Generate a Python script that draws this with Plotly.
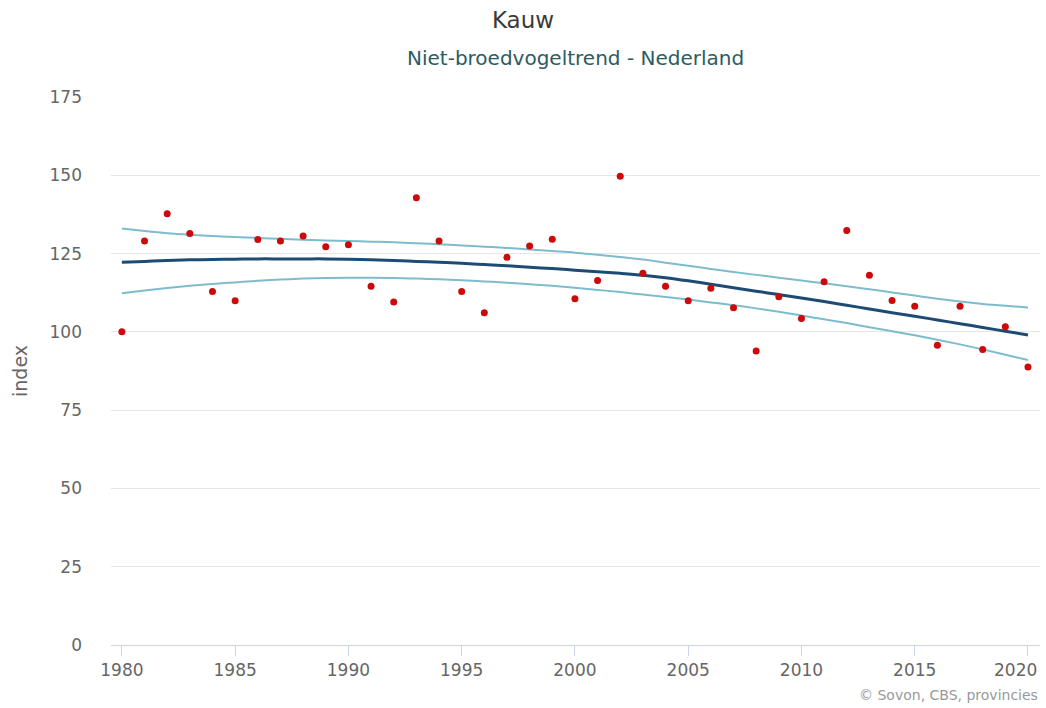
import plotly.graph_objects as go

years = list(range(1980, 2021))

index_values = [100.0, 129.0, 137.7, 131.4, 112.9, 109.9, 129.5, 129.0, 130.6, 127.2,
                127.8, 114.6, 109.5, 142.8, 129.0, 112.9, 106.1, 123.8, 127.4, 129.6,
                110.6, 116.4, 149.7, 118.7, 114.6, 109.9, 113.9, 107.7, 93.9, 111.2,
                104.3, 116.0, 132.4, 118.1, 110.0, 108.2, 95.7, 108.2, 94.4, 101.6,
                88.8]

trend = [122.2, 122.5, 122.8, 123.0, 123.1, 123.2, 123.3, 123.3, 123.3, 123.3,
         123.2, 123.0, 122.8, 122.5, 122.2, 121.9, 121.5, 121.1, 120.6, 120.2,
         119.7, 119.2, 118.7, 118.1, 117.3, 116.3, 115.2, 114.1, 113.0, 111.9,
         110.8, 109.7, 108.5, 107.3, 106.1, 105.0, 103.8, 102.6, 101.4, 100.2,
         99.0]

upper = [133.0, 132.2, 131.5, 131.0, 130.6, 130.3, 130.0, 129.7, 129.4, 129.2,
         129.0, 128.8, 128.6, 128.3, 128.0, 127.6, 127.2, 126.8, 126.3, 125.8,
         125.3, 124.6, 123.9, 123.1, 122.1, 121.1, 120.1, 119.1, 118.2, 117.3,
         116.4, 115.5, 114.6, 113.6, 112.6, 111.6, 110.6, 109.7, 108.9, 108.3,
         107.8]

lower = [112.3, 113.2, 114.0, 114.7, 115.3, 115.8, 116.3, 116.7, 117.0, 117.2,
         117.3, 117.3, 117.2, 117.0, 116.8, 116.5, 116.1, 115.7, 115.2, 114.7,
         114.1, 113.4, 112.7, 111.9, 111.1, 110.3, 109.4, 108.5, 107.5, 106.4,
         105.2, 104.0, 102.8, 101.5, 100.2, 98.9, 97.5, 96.0, 94.4, 92.7,
         91.0]

x_ticks = [1980, 1985, 1990, 1995, 2000, 2005, 2010, 2015, 2020]
y_ticks = [0, 25, 50, 75, 100, 125, 150, 175]

title_text = "Kauw"
subtitle_text = "Niet-broedvogeltrend - Nederland"
credits_text = "© Sovon, CBS, provincies"

FONT = "DejaVu Sans, sans-serif"

fig = go.Figure()
fig.add_trace(go.Scatter(x=years, y=upper, mode="lines", line=dict(color="#7dbccd", width=2, shape="spline"),
                         hoverinfo="skip", showlegend=False))
fig.add_trace(go.Scatter(x=years, y=lower, mode="lines", line=dict(color="#7dbccd", width=2, shape="spline"),
                         hoverinfo="skip", showlegend=False))
fig.add_trace(go.Scatter(x=years, y=trend, mode="lines", line=dict(color="#1d4b73", width=3, shape="spline"),
                         showlegend=False))
fig.add_trace(go.Scatter(x=years, y=index_values, mode="markers",
                         marker=dict(color="#cc0a0a", size=7), showlegend=False))

# last x tick label is kept inside the chart (right-aligned at its tick), as in the original
tick_text = [str(t) for t in x_ticks[:-1]] + [""]
last_label = dict(text=str(x_ticks[-1]), xref="x", yref="paper", x=x_ticks[-1], xanchor="right",
                  xshift=11, y=-25 / 548, yanchor="middle", showarrow=False,
                  font=dict(family=FONT, size=17, color="#666666"))

fig.update_layout(
    width=1046, height=708,
    paper_bgcolor="white", plot_bgcolor="white",
    margin=dict(l=111, r=6, t=97, b=63),
    font=dict(family=FONT, color="#666666", size=17),
    title=dict(text=title_text, x=0.5, xanchor="center", y=1 - 20 / 708, yanchor="middle",
               font=dict(family=FONT, size=23, color="#3a3a3a")),
    annotations=[
        dict(text=subtitle_text, xref="paper", yref="paper", x=0.5, xanchor="center",
             y=1 + (97 - 58) / 548, yanchor="middle", showarrow=False,
             font=dict(family=FONT, size=20, color="#2b5c62")),
        dict(text=credits_text, xref="paper", yref="paper", x=1.0, xanchor="right",
             y=-50 / 548, yanchor="middle", showarrow=False,
             font=dict(family=FONT, size=14, color="#999999")),
        last_label,
    ],
    xaxis=dict(range=[1979.52, 2020.53], tickvals=x_ticks, ticktext=tick_text,
               showgrid=False, showline=True, linecolor="#ccd6eb", linewidth=1,
               ticks="outside", ticklen=10, tickcolor="#ccd6eb", zeroline=False,
               tickfont=dict(size=17, color="#666666")),
    yaxis=dict(range=[0, 175], tickvals=y_ticks, showgrid=True, gridcolor="#e6e6e6",
               zeroline=False, showline=False, ticks="", ticklabelstandoff=28,
               title=dict(text="index", standoff=16, font=dict(size=19, color="#666666")),
               tickfont=dict(size=17, color="#666666")),
)

fig.write_html("out.html", config={"displayModeBar": False},
               post_script="document.body.style.margin='0';")
